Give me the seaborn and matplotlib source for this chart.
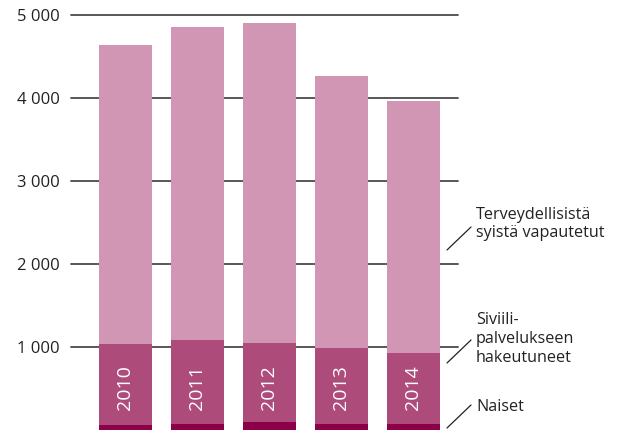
import matplotlib
matplotlib.use("Agg")
import matplotlib.pyplot as plt
import numpy as np
import pandas as pd
import seaborn as sns

# Asevelvollisuudesta vapautetut ja siviilipalvelukseen hakeutuneet vuosittain
years = ["2010", "2011", "2012", "2013", "2014"]
naiset = [58, 70, 95, 72, 72]
siviilipalvelus = [978, 1014, 953, 916, 856]
terveys = [3604, 3771, 3856, 3277, 3036]

y_ticks = [1000, 2000, 3000, 4000, 5000]

c_terveys = "#D096B3"
c_siviili = "#AD4B7A"
c_naiset = "#8C0049"

sns.set_theme(style="white")
plt.rcParams["font.family"] = ["Open Sans", "DejaVu Sans"]

df = pd.DataFrame({
    "vuosi": years,
    "naiset": naiset,
    "siviili": np.array(naiset) + np.array(siviilipalvelus),
    "yhteensa": np.array(naiset) + np.array(siviilipalvelus) + np.array(terveys),
})

fig = plt.figure(figsize=(6.39, 4.30), dpi=100)
ax = fig.add_axes([71 / 639, 0.0, (458 - 71) / 639, 1 - 15 / 430])

bw = 0.74
bar_kw = dict(saturation=1, width=bw, ax=ax, linewidth=0, edgecolor="none")
sns.barplot(data=df, x="vuosi", y="yhteensa", color=c_terveys, zorder=2, **bar_kw)
sns.barplot(data=df, x="vuosi", y="siviili", color=c_siviili, zorder=3, **bar_kw)
sns.barplot(data=df, x="vuosi", y="naiset", color=c_naiset, zorder=4, **bar_kw)

ax.set_ylim(0, 5000)
ax.set_xlim(-0.757, 4.62)
ax.set_yticks(y_ticks)
ax.set_yticklabels([f"{v:,}".replace(",", " ") for v in y_ticks], fontsize=12,
                   color="#222222")
ax.tick_params(axis="y", length=0, pad=8)
ax.set_xticks([])
ax.set_xlabel("")
ax.set_ylabel("")
for s in ax.spines.values():
    s.set_visible(False)
for v in y_ticks:
    ax.axhline(v, color="#4a4a4a", lw=1.3, zorder=1, clip_on=False)

# vuosiluvut pystyyn palkkien sisään
for i, yr in enumerate(years):
    ax.text(i, 506, yr, rotation=90, ha="center", va="center", color="white",
            fontsize=14, zorder=5)

# selitteet oikealle
legend_items = [
    ("Terveydellisistä\nsyistä vapautetut", 224, 250),
    ("Siviili-\npalvelukseen\nhakeutuneet", 339, 363),
    ("Naiset", 407, 428),
]
for text, ty, ly in legend_items:
    fig.text(476 / 639, 1 - ty / 430, text, ha="left", va="center",
             fontsize=11.6, color="#222222", linespacing=1.22)
    fig.add_artist(plt.Line2D([447 / 639, 471 / 639],
                              [1 - ly / 430, 1 - (ly - 23) / 430],
                              color="#222222", lw=0.9))

fig.savefig("out.png", dpi=100)
